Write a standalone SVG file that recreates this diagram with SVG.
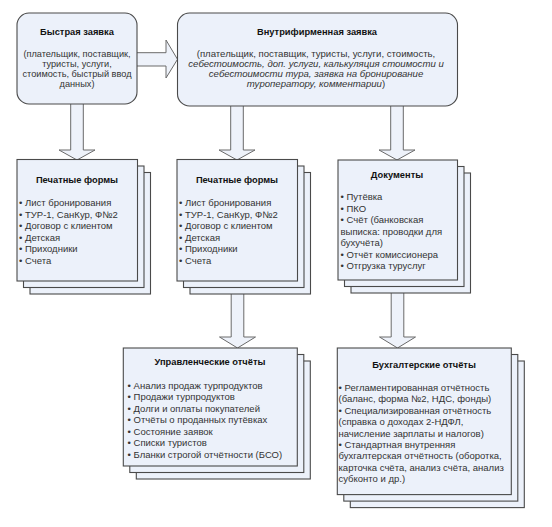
<svg xmlns="http://www.w3.org/2000/svg" width="552" height="527" viewBox="0 0 552 527">
<style>
.bx{fill:#ECF1FA;stroke:#4a4a4a;stroke-width:1.1}
.ar{fill:#EEF2FA;stroke:#6a6a6a;stroke-width:1}
text{font-family:"Liberation Sans",Arial,sans-serif;fill:#333}
.t{font-weight:bold;fill:#111;font-size:9.3px;text-anchor:middle}
.c{font-size:9.2px;text-anchor:middle}
.w{font-size:9.6px}
.l{font-size:9.5px}
.i{font-style:italic}
</style>
<rect width="552" height="527" fill="#fff"/>
<g id="connectors">
<polygon class="ar" points="130,52.7 166,52.7 166,40 177.5,59.3 166,78 166,66 130,66"/>
<polygon class="ar" points="70.7,100 83.3,100 83.3,150 95,150 77,160 59,150 70.7,150"/>
<polygon class="ar" points="230.7,100 243.3,100 243.3,150 255,150 237,160 219,150 230.7,150"/>
<polygon class="ar" points="390.7,100 403.3,100 403.3,150 415,150 397,160 379,150 390.7,150"/>
<polygon class="ar" points="231.2,281 243.8,281 243.8,337 255.5,337 237.5,348 219.5,337 231.2,337"/>
<polygon class="ar" points="391.2,280 403.8,280 403.8,337 415.5,337 397.5,348 379.5,337 391.2,337"/>
</g>
<g id="n-quick">
<rect class="bx" x="17" y="13" width="120" height="91" rx="12"/>
<text class="t" x="77" y="35">Быстрая заявка</text>
<text class="c" x="77" y="57">(плательщик, поставщик,</text>
<text class="c" x="77" y="67">туристы, услуги,</text>
<text class="c" x="77" y="77">стоимость, быстрый ввод</text>
<text class="c" x="77" y="87">данных)</text>
</g>
<g id="n-internal">
<rect class="bx" x="177.5" y="13" width="280" height="93" rx="12"/>
<text class="t" x="317" y="35">Внутрифирменная заявка</text>
<text class="c w" x="316" y="57">(плательщик, поставщик, туристы, услуги, стоимость,</text>
<text class="c w i" x="316" y="67">себестоимость, доп. услуги, калькуляция стоимости и</text>
<text class="c w i" x="316" y="77">себестоимости тура, заявка на бронирование</text>
<text class="c w" x="316" y="87"><tspan class="i">туроператору, комментарии</tspan>)</text>
</g>
<g id="n-print1">
<rect class="bx" x="30" y="172.5" width="120.5" height="121.5"/>
<rect class="bx" x="23.5" y="166" width="120.5" height="121.5"/>
<rect class="bx" x="17" y="159.5" width="120.5" height="121.5"/>
<text class="t" x="77" y="183">Печатные формы</text>
<text class="l" x="19" y="206">• Лист бронирования</text>
<text class="l" x="19" y="217.5">• ТУР-1, СанКур, Ф№2</text>
<text class="l" x="19" y="229">• Договор с клиентом</text>
<text class="l" x="19" y="240.5">• Детская</text>
<text class="l" x="19" y="252">• Приходники</text>
<text class="l" x="19" y="263.5">• Счета</text>
</g>
<g id="n-print2">
<rect class="bx" x="190" y="172.5" width="120.5" height="121.5"/>
<rect class="bx" x="183.5" y="166" width="120.5" height="121.5"/>
<rect class="bx" x="177" y="159.5" width="120.5" height="121.5"/>
<text class="t" x="237" y="183">Печатные формы</text>
<text class="l" x="179" y="206">• Лист бронирования</text>
<text class="l" x="179" y="217.5">• ТУР-1, СанКур, Ф№2</text>
<text class="l" x="179" y="229">• Договор с клиентом</text>
<text class="l" x="179" y="240.5">• Детская</text>
<text class="l" x="179" y="252">• Приходники</text>
<text class="l" x="179" y="263.5">• Счета</text>
</g>
<g id="n-docs">
<rect class="bx" x="351" y="173" width="119.5" height="120"/>
<rect class="bx" x="344.5" y="166.5" width="119.5" height="120"/>
<rect class="bx" x="338" y="160" width="119.5" height="120"/>
<text class="t" x="397" y="177.5">Документы</text>
<text class="l" x="340.5" y="200">• Путёвка</text>
<text class="l" x="340.5" y="211.5">• ПКО</text>
<text class="l" x="340.5" y="223">• Счёт (банковская</text>
<text class="l" x="340.5" y="234.5">выписка: проводки для</text>
<text class="l" x="340.5" y="246">бухучёта)</text>
<text class="l" x="340.5" y="257.5">• Отчёт комиссионера</text>
<text class="l" x="340.5" y="269">• Отгрузка туруслуг</text>
</g>
<g id="n-mgmt">
<rect class="bx" x="136.3" y="361" width="174" height="118"/>
<rect class="bx" x="129.8" y="354.5" width="174" height="118"/>
<rect class="bx" x="123.3" y="348" width="174" height="118"/>
<text class="t" x="210" y="365">Управленческие отчёты</text>
<text class="l" x="127.6" y="388.5">• Анализ продаж турпродуктов</text>
<text class="l" x="127.6" y="400">• Продажи турпродуктов</text>
<text class="l" x="127.6" y="411.5">• Долги и оплаты покупателей</text>
<text class="l" x="127.6" y="423">• Отчёты о проданных путёвках</text>
<text class="l" x="127.6" y="434.5">• Состояние заявок</text>
<text class="l" x="127.6" y="446">• Списки туристов</text>
<text class="l" x="127.6" y="457.5">• Бланки строгой отчётности (БСО)</text>
</g>
<g id="n-acct">
<rect class="bx" x="350.3" y="361" width="174" height="146.6"/>
<rect class="bx" x="343.8" y="354.5" width="174" height="146.6"/>
<rect class="bx" x="337.3" y="348" width="174" height="146.6"/>
<text class="t" x="424" y="367.5">Бухгалтерские отчёты</text>
<text class="l" x="338.5" y="391">• Регламентированная отчётность</text>
<text class="l" x="338.5" y="402.4">(баланс, форма №2, НДС, фонды)</text>
<text class="l" x="338.5" y="413.8">• Специализированная отчётность</text>
<text class="l" x="338.5" y="425.2">(справка о доходах 2-НДФЛ,</text>
<text class="l" x="338.5" y="436.6">начисление зарплаты и налогов)</text>
<text class="l" x="338.5" y="448">• Стандартная внутренняя</text>
<text class="l" x="338.5" y="459.4">бухгалтерская отчётность (оборотка,</text>
<text class="l" x="338.5" y="470.8">карточка счёта, анализ счёта, анализ</text>
<text class="l" x="338.5" y="482.2">субконто и др.)</text>
</g>
</svg>
